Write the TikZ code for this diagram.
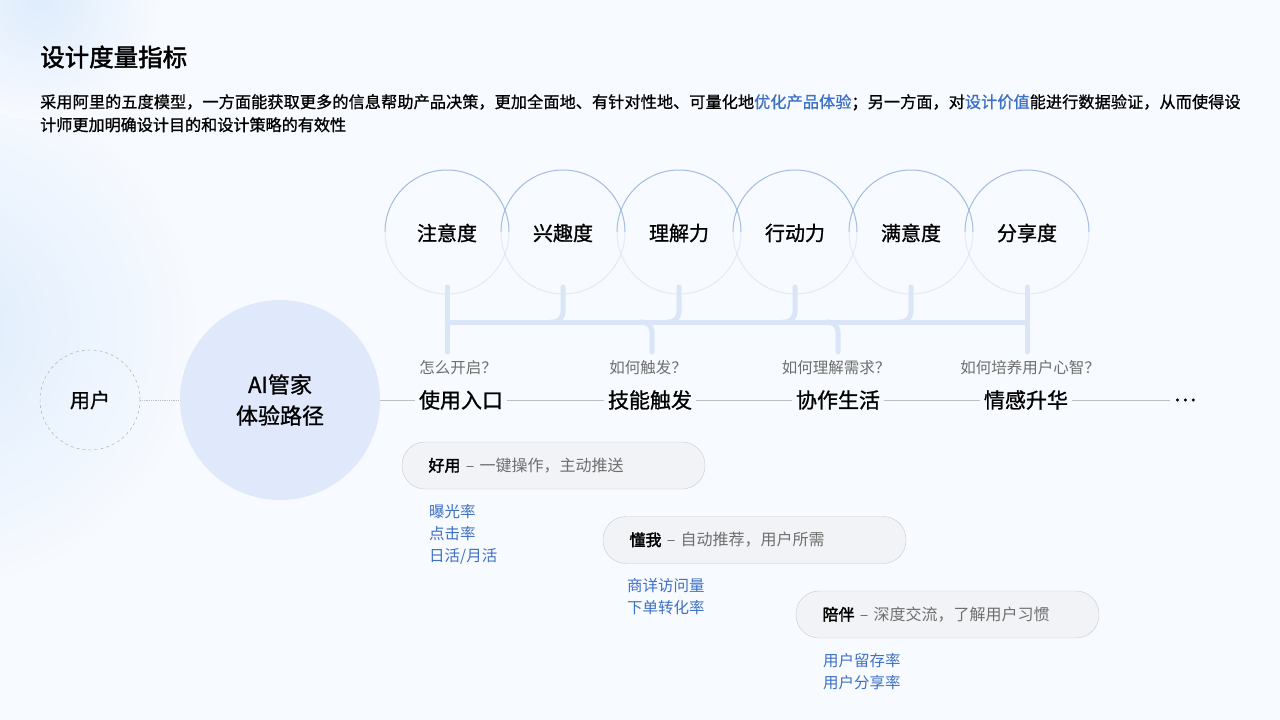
\documentclass[tikz,border=0pt]{standalone}
\usepackage{fontspec}
\setmainfont{Noto Sans CJK SC}
\newfontfamily\cjkbold[FakeBold=2]{Noto Sans CJK SC}
\newfontfamily\cjkmed[FakeBold=1]{Noto Sans CJK SC}
\XeTeXlinebreaklocale "zh"
\XeTeXlinebreakskip=0pt plus 1pt
\usetikzlibrary{positioning}
\definecolor{bgc}{RGB}{247,250,254}
\definecolor{glowc}{RGB}{222,236,253}
\definecolor{ringc}{RGB}{125,160,212}
\definecolor{ringl}{RGB}{225,234,246}
\definecolor{bracec}{RGB}{218,230,248}
\definecolor{hubc}{RGB}{224,233,251}
\definecolor{linkc}{RGB}{62,112,196}
\definecolor{askc}{RGB}{110,110,110}
\definecolor{pillc}{RGB}{241,243,246}
\definecolor{pilld}{RGB}{200,203,208}
\begin{document}
\begin{tikzpicture}[x=1pt,y=-1pt,
  metric/.style={font=\fontsize{20}{24}\cjkmed, text=black},
  stage/.style={font=\fontsize{21}{25}\cjkmed, text=black},
  ask/.style={font=\fontsize{15.5}{18}\selectfont, text=askc},
  pill/.style={draw=pilld, fill=pillc, rounded corners=23pt, minimum width=303pt,
               minimum height=47pt, font=\fontsize{16}{19}\selectfont, text=askc,
               inner sep=0pt, text width=250pt, align=left},
  kpi/.style={font=\fontsize{15.5}{22}\selectfont, text=linkc, align=left, anchor=north west, inner sep=0pt},
  link/.style={draw=black!25, line width=0.8pt}]
  \useasboundingbox (0,0) rectangle (1280,720);
  \begin{scope}
    \clip (0,0) rectangle (1280,720);
    \fill[bgc] (0,0) rectangle (1280,720);
    \shade[inner color=glowc, outer color=bgc] (-60,330) circle (260);
    \shade[inner color=glowc, outer color=bgc] (40,0) circle (120);
  \end{scope}

  % heading
  \node[anchor=west, inner sep=0pt, font=\fontsize{24.5}{28}\cjkbold] (title) at (40,57) {设计度量指标};
  \node[anchor=north west, text width=1205pt, align=left, inner sep=0pt,
        font=\fontsize{16.1}{23}\cjkmed] (intro) at (40,94)
    {采用阿里的五度模型，一方面能获取更多的信息帮助产品决策，更加全面地、有针对性地、可量化地\textcolor{linkc}{优化产品体验}；另一方面，对\textcolor{linkc}{设计价值}能进行数据验证，从而使得设计师更加明确设计目的和设计策略的有效性};

  % five-degree rings
  \foreach \x/\t/\n in {447/注意度/m1,563/兴趣度/m2,679/理解力/m3,795/行动力/m4,911/满意度/m5,1027/分享度/m6}{
    \draw[ringc!70, line width=1pt] (\x-62,232) arc[start angle=180, end angle=360, radius=62];
    \draw[ringl, line width=1pt] (\x-62,232) arc[start angle=180, end angle=0, radius=62];
    \node[metric] (\n) at (\x,233) {\t};
  }

  % braces
  \begin{scope}[bracec, line width=5pt, line cap=round, rounded corners=10pt]
    \draw (447,287) -- (447,352);
    \draw (1027,287) -- (1027,352);
    \draw (447,322) -- (1027,322);
    \foreach \x in {563,679,795,911}
      \draw (\x-12,322) -- (\x,322) -- (\x,287);
    \foreach \x in {652,838}
      \draw (\x-12,322) -- (\x,322) -- (\x,352);
  \end{scope}

  % journey row
  \node[circle, draw=black!35, dashed, minimum size=100pt] (user) at (90,400)
    {\fontsize{20}{24}\cjkmed 用户};
  \node[circle, fill=hubc, minimum size=200pt, align=center,
        font=\fontsize{22}{31}\cjkmed] (hub) at (280,400) {AI管家\\体验路径};
  \node[stage] (s1) at (461,400) {使用入口};
  \node[stage] (s2) at (650,400) {技能触发};
  \node[stage] (s3) at (838,400) {协作生活};
  \node[stage] (s4) at (1026,400) {情感升华};
  \node[stage] (s5) at (1185,400) {…};
  \draw[link, densely dotted] (user) -- (hub);
  \draw[link] (hub) -- (s1);
  \draw[link] (s1) -- (s2);
  \draw[link] (s2) -- (s3);
  \draw[link] (s3) -- (s4);
  \draw[link] (s4) -- (s5);
  \node[ask] (q1) at (458,368) {怎么开启？};
  \node[ask] (q2) at (648,368) {如何触发？};
  \node[ask] (q3) at (836,368) {如何理解需求？};
  \node[ask] (q4) at (1030,368) {如何培养用户心智？};

  % value pills
  \node[pill] (p1) at (553.5,465.5) {\textcolor{black}{\cjkbold 好用} – 一键操作，主动推送};
  \node[pill] (p2) at (754.5,540) {\textcolor{black}{\cjkbold 懂我} – 自动推荐，用户所需};
  \node[pill] (p3) at (947.5,614.5) {\textcolor{black}{\cjkbold 陪伴} – 深度交流，了解用户习惯};
  \node[kpi] (k1) at (429,504) {曝光率\\点击率\\日活/月活};
  \node[kpi] (k2) at (627,578) {商详访问量\\下单转化率};
  \node[kpi] (k3) at (823,653) {用户留存率\\用户分享率};
\end{tikzpicture}
\end{document}
